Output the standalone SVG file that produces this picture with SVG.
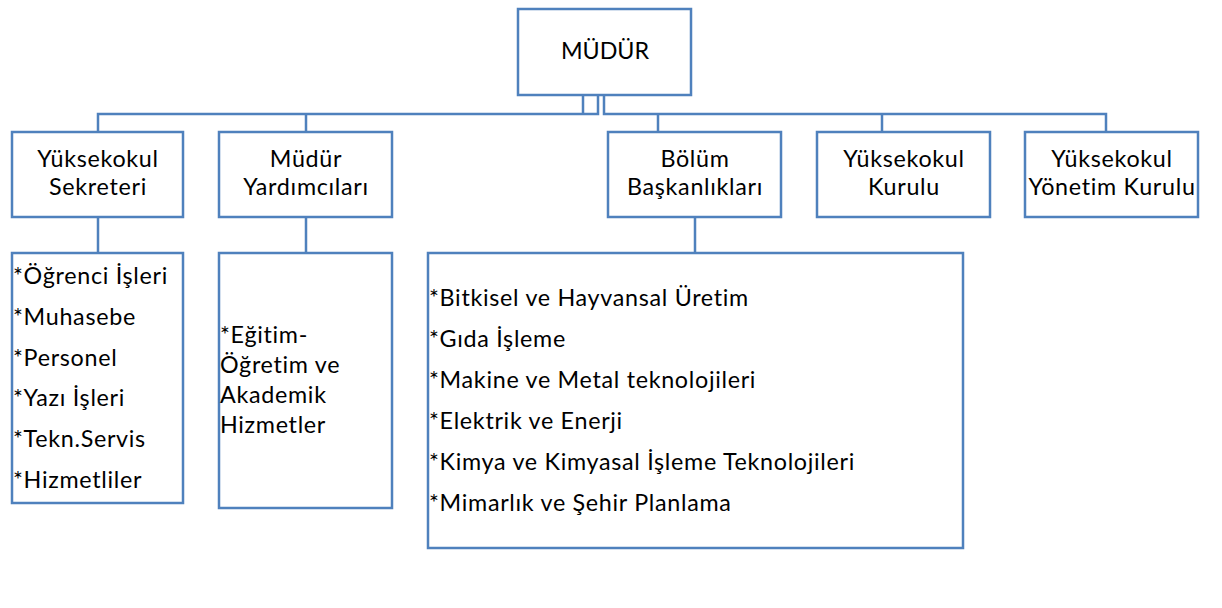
<svg xmlns="http://www.w3.org/2000/svg" width="1222" height="608" viewBox="0 0 1222 608">
<style>
.box{fill:#fff;stroke:#4f81bd;stroke-width:2.5}
.ln{fill:none;stroke:#4f81bd;stroke-width:2.5}
text{font-family:Lato,"Open Sans",sans-serif;font-size:23.3px;fill:#000;letter-spacing:0.7px}
.c{text-anchor:middle}
</style>
<rect width="1222" height="608" fill="#fff"/>
<g id="connectors">
<path class="ln" d="M98,132 V114 H598 V95 M583,95 V114 M604,95 V114 H1106 V132 M306,114 V132 M658,114 V132 M882,114 V132"/>
<path class="ln" d="M98,217 V253 M306,217 V253 M695,217 V253"/>
</g>
<g id="mudur">
<rect class="box" x="518" y="9" width="173" height="86"/>
<text class="c" x="605" y="59" style="letter-spacing:0">MÜDÜR</text>
</g>
<g id="sekreter">
<rect class="box" x="12" y="132" width="171" height="85"/>
<text class="c" x="98" y="167">Yüksekokul<tspan x="98" dy="28">Sekreteri</tspan></text>
</g>
<g id="yardimci">
<rect class="box" x="219" y="132" width="173" height="85"/>
<text class="c" x="306" y="167">Müdür<tspan x="306" dy="28">Yardımcıları</tspan></text>
</g>
<g id="bolum">
<rect class="box" x="608" y="132" width="173" height="85"/>
<text class="c" x="695" y="167">Bölüm<tspan x="695" dy="28">Başkanlıkları</tspan></text>
</g>
<g id="kurul">
<rect class="box" x="817" y="132" width="173" height="85"/>
<text class="c" x="904" y="167">Yüksekokul<tspan x="904" dy="28">Kurulu</tspan></text>
</g>
<g id="yonetim">
<rect class="box" x="1025" y="132" width="173" height="85"/>
<text class="c" x="1112" y="167">Yüksekokul<tspan x="1112" dy="28">Yönetim Kurulu</tspan></text>
</g>
<g id="sekreter-list">
<rect class="box" x="12" y="253" width="171" height="250"/>
<text x="13" y="284">*Öğrenci İşleri</text>
<text x="13" y="325">*Muhasebe</text>
<text x="13" y="366">*Personel</text>
<text x="13" y="406">*Yazı İşleri</text>
<text x="13" y="447">*Tekn.Servis</text>
<text x="13" y="488">*Hizmetliler</text>
</g>
<g id="yardimci-list">
<rect class="box" x="219" y="253" width="173" height="255"/>
<text x="220" y="343">*Eğitim-<tspan x="220" dy="30">Öğretim ve</tspan><tspan x="220" dy="30">Akademik</tspan><tspan x="220" dy="30">Hizmetler</tspan></text>
</g>
<g id="bolum-list">
<rect class="box" x="428" y="253" width="535" height="295"/>
<text x="429" y="306">*Bitkisel ve Hayvansal Üretim</text>
<text x="429" y="347">*Gıda İşleme</text>
<text x="429" y="388">*Makine ve Metal teknolojileri</text>
<text x="429" y="429">*Elektrik ve Enerji</text>
<text x="429" y="470">*Kimya ve Kimyasal İşleme Teknolojileri</text>
<text x="429" y="511">*Mimarlık ve Şehir Planlama</text>
</g>
</svg>
